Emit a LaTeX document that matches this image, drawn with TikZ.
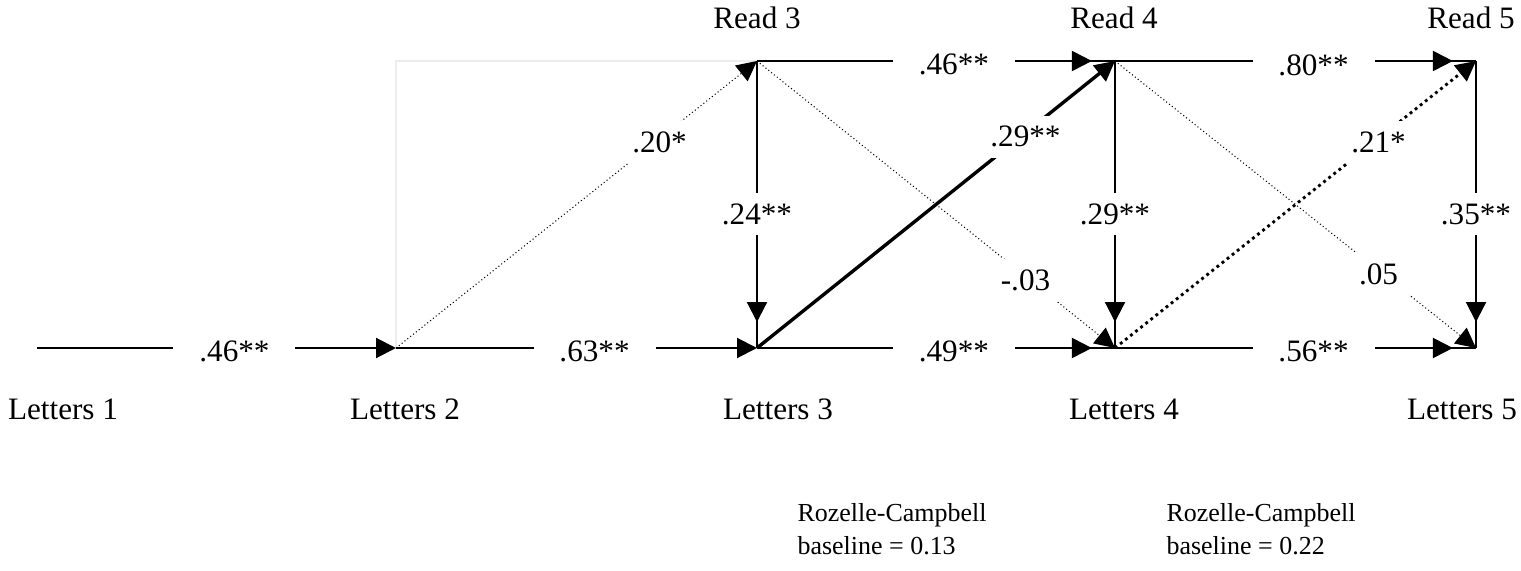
\documentclass[tikz,border=0pt]{standalone}
\usepackage{fontspec}
\setmainfont{Liberation Serif}
\usetikzlibrary{arrows.meta,decorations.markings}

\begin{document}
\begin{tikzpicture}[x=0.385pt,y=-0.385pt,
  lab/.style={font=\fontsize{12}{14}\selectfont},
  note/.style={font=\fontsize{10}{12.6}\selectfont,align=left,inner sep=0pt,anchor=north west},
  coef/.style={fill=white,inner xsep=10pt,inner ysep=4pt,yshift=-1.5pt,font=\fontsize{12}{14}\selectfont},
  line/.style={line width=0.8pt},
  link/.style={line,-{Triangle[length=7.7pt,width=7.7pt]}},
  gaplink/.style={line,postaction={decorate},decoration={markings,
    mark=at position -#1 with {\arrow{Triangle[length=7.7pt,width=7.7pt]}}}},
  dotlink/.style={link,line width=0.4pt,densely dotted},
  boldlink/.style={link,line width=1.3pt},
  heavydot/.style={link,line width=1.1pt,dash pattern=on 1.1pt off 1.4pt}]
\useasboundingbox (0,0) rectangle (1521,571);
\coordinate (L1) at (37,348);
\coordinate (L2) at (396,348);
\coordinate (L3) at (757,348);
\coordinate (L4) at (1115,348);
\coordinate (L5) at (1476,348);
\coordinate (R3) at (757,61);
\coordinate (R4) at (1115,61);
\coordinate (R5) at (1476,61);
\coordinate (C2) at (L2 |- R3);
\foreach \n/\x in {3/757,4/1114,5/1471}
  \node[lab] (read\n) at (\x,18) {Read \n};
\foreach \n/\x in {1/63,2/405,3/778,4/1124,5/1462}
  \node[lab] (let\n) at (\x,409) {Letters \n};
\draw[black!7,line width=0.5pt] (L2) -- (C2) -- (R3);
\draw[link] (L1) -- node[coef,pos=.55]{.46**} (L2);
\draw[link] (L2) -- node[coef,pos=.55]{.63**} (L3);
\draw[gaplink=8.9pt] (L3) -- node[coef,pos=.55]{.49**} (L4);
\draw[gaplink=8.9pt] (L4) -- node[coef,pos=.55]{.56**} (L5);
\draw[gaplink=8.9pt] (R3) -- node[coef,pos=.55]{.46**} (R4);
\draw[gaplink=8.9pt] (R4) -- node[coef,pos=.55]{.80**} (R5);
\draw[gaplink=10pt] (R3) -- node[coef,pos=.52]{.24**} (L3);
\draw[gaplink=10pt] (R4) -- node[coef,pos=.52]{.29**} (L4);
\draw[gaplink=10pt] (R5) -- node[coef,pos=.52]{.35**} (L5);
\draw[dotlink] (L2) -- node[coef,pos=.73]{.20*} (R3);
\draw[dotlink] (R3) -- node[coef,pos=.75]{-.03} (L4);
\draw[dotlink] (R4) -- node[coef,pos=.73]{.05} (L5);
\draw[heavydot] (L4) -- node[coef,pos=.73]{.21*} (R5);
\draw[boldlink] (L3) -- node[coef,pos=.75]{.29**} (R4);
\node[note] (rc3) at (797,503) {Rozelle-Campbell\\baseline = 0.13};
\node[note] (rc4) at (1166,503) {Rozelle-Campbell\\baseline = 0.22};
\end{tikzpicture}
\end{document}
